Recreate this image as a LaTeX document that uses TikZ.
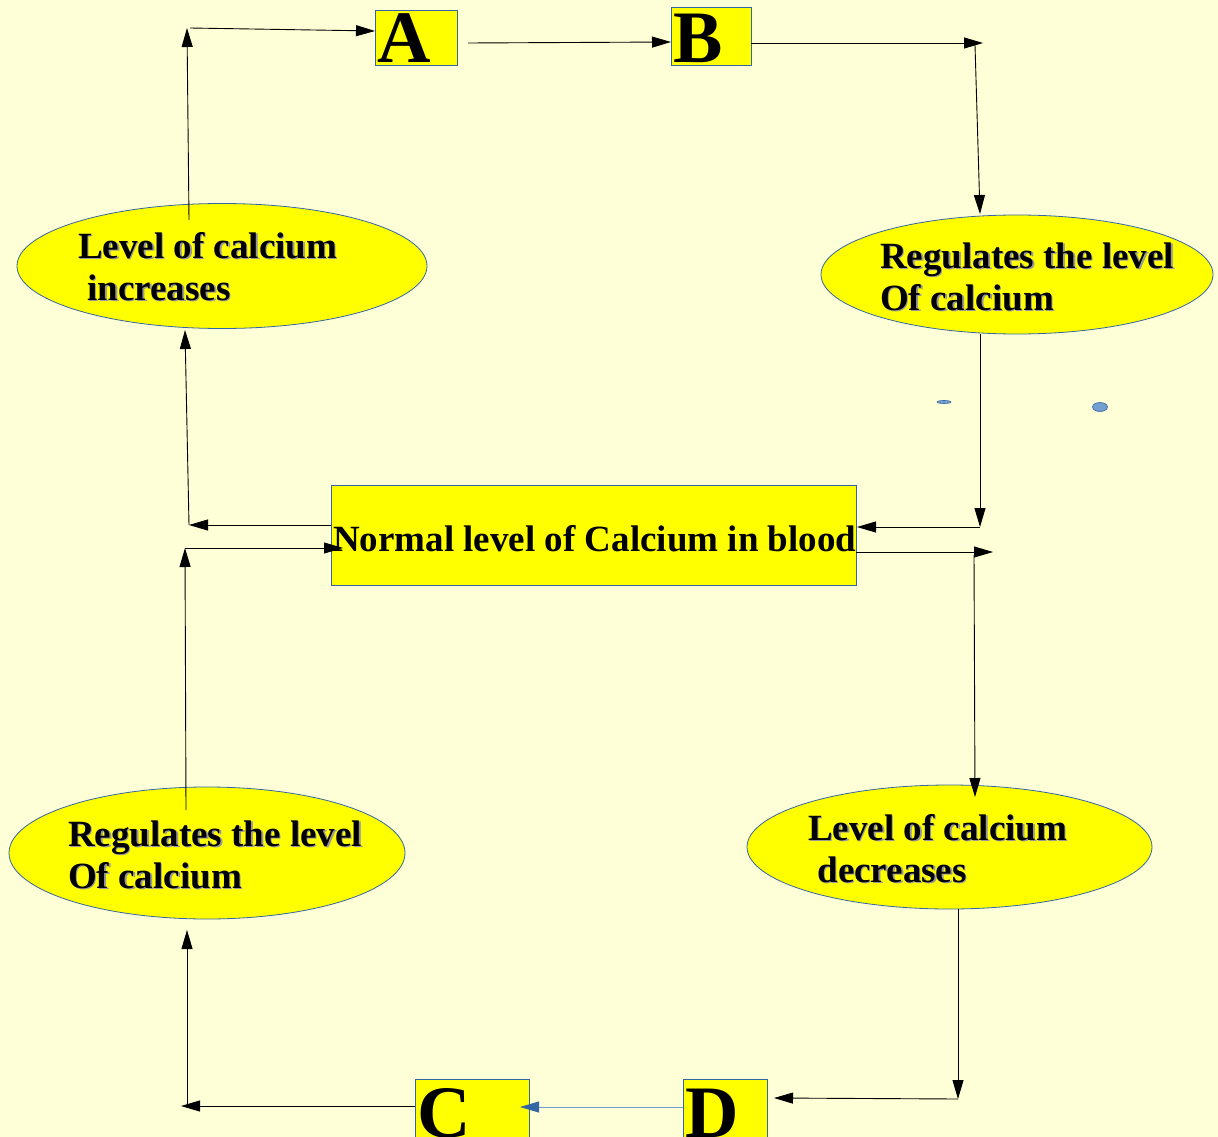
\documentclass[tikz,border=0pt]{standalone}
\usepackage{fontspec}
\setmainfont{Liberation Serif}
\usetikzlibrary{shapes.geometric,arrows.meta}
\definecolor{bg}{HTML}{FFFFD7}
\definecolor{yel}{HTML}{FFFF00}
\definecolor{edgeblue}{HTML}{3465A4}
\definecolor{lblue}{HTML}{729FCF}
\definecolor{shd}{HTML}{9A9A9A}
\tikzset{
  arr/.style={draw=black, line width=0.9pt, -{Triangle[length=19pt,width=11pt]}},
  barr/.style={draw=lblue, line width=0.9pt, -{Triangle[length=19pt,width=11pt,color=edgeblue]}},
  ybox/.style={draw=edgeblue, fill=yel, line width=0.8pt, inner sep=0pt, anchor=north west},
  yell/.style={ellipse, draw=edgeblue, fill=yel, line width=0.8pt, inner sep=0pt},
  lbl/.style={font=\fontsize{37}{42}\selectfont\bfseries, inner sep=0pt, anchor=base west},
  shlbl/.style={lbl, text=shd},
  big/.style={font=\fontsize{74}{80}\selectfont\bfseries, inner sep=0pt, anchor=base west},
  dot/.style={ellipse, draw=edgeblue, fill=lblue, line width=0.6pt, inner sep=0pt},
}
\begin{document}
\begin{tikzpicture}[x=1pt,y=-1pt]
\fill[bg] (0,0) rectangle (1218,1137);
\useasboundingbox (0,0) rectangle (1218,1137);

% boxes
\node[ybox, minimum width=82pt, minimum height=55pt] (A) at (375,10) {};
\node[big] (Atxt) at (377,63) {A};
\node[ybox, minimum width=80pt, minimum height=58pt] (B) at (671,7) {};
\node[big] (Btxt) at (673,63) {B};
\node[ybox, minimum width=114pt, minimum height=60pt] (C) at (415,1079) {};
\node[big] (Ctxt) at (417,1137) {C};
\node[ybox, minimum width=84pt, minimum height=60pt] (D) at (683,1079) {};
\node[big] (Dtxt) at (685,1137) {D};
\node[ybox, minimum width=525pt, minimum height=100pt] (N) at (331,485) {};
\node[lbl] (Ntxt) at (333,551) {Normal level of Calcium in blood};

% ellipses
\node[yell, minimum width=410pt, minimum height=125pt] (E1) at (222,266) {};
\node[yell, minimum width=392pt, minimum height=119pt] (E2) at (1017,274.5) {};
\node[yell, minimum width=396pt, minimum height=132pt] (E3) at (207,853) {};
\node[yell, minimum width=405pt, minimum height=124pt] (E4) at (949.5,847) {};

% ellipse texts with shadow
\node[shlbl] (s1a) at (79.5,259.5) {Level of calcium};
\node[lbl] (t1a) at (78,258) {Level of calcium};
\node[shlbl] (s1b) at (79.5,301.5) {\ increases};
\node[lbl] (t1b) at (78,300) {\ increases};
\node[shlbl] (s2a) at (881.5,269.5) {Regulates the level};
\node[lbl] (t2a) at (880,268) {Regulates the level};
\node[shlbl] (s2b) at (881.5,311.5) {Of calcium};
\node[lbl] (t2b) at (880,310) {Of calcium};
\node[shlbl] (s3a) at (69.5,847.5) {Regulates the level};
\node[lbl] (t3a) at (68,846) {Regulates the level};
\node[shlbl] (s3b) at (69.5,889.5) {Of calcium};
\node[lbl] (t3b) at (68,888) {Of calcium};
\node[shlbl] (s4a) at (809.5,841.5) {Level of calcium};
\node[lbl] (t4a) at (808,840) {Level of calcium};
\node[shlbl] (s4b) at (809.5,883.5) {\ decreases};
\node[lbl] (t4b) at (808,882) {\ decreases};

% small blue marks
\node[dot, minimum width=14pt, minimum height=3pt] (m1) at (944,402) {};
\node[dot, minimum width=15pt, minimum height=9pt] (m2) at (1100,407) {};

% connector points
\coordinate (e1top) at (189,220);
\coordinate (tl) at (187,28);
\coordinate (tl2) at (190,28);
\coordinate (aL) at (375,31);
\coordinate (aR) at (468,43);
\coordinate (bL) at (671,42);
\coordinate (bR) at (751,43);
\coordinate (tr) at (983,43);
\coordinate (tr2) at (975,45);
\coordinate (e2top) at (980,214);
\coordinate (e2bot) at (980,334);
\coordinate (mr) at (980,527);
\coordinate (nR1) at (857,527);
\coordinate (nR2) at (856,552);
\coordinate (mr2) at (993,552);
\coordinate (mr3) at (974,555);
\coordinate (e4top) at (975,797);
\coordinate (e4bot) at (958,909);
\coordinate (br) at (958,1099);
\coordinate (dR) at (774,1098);
\coordinate (dL) at (683,1107);
\coordinate (cIn) at (520,1107);
\coordinate (cL) at (415,1106);
\coordinate (bl) at (181,1106);
\coordinate (bl2) at (187,1104);
\coordinate (e3bot) at (187,930);
\coordinate (e3top) at (186,810);
\coordinate (ml) at (185,548);
\coordinate (nL2) at (343,548);
\coordinate (nL1) at (331,525);
\coordinate (ml2) at (189,525);
\coordinate (e1bot) at (185,330);

% connectors
\draw[arr] (e1top) -- (tl);
\draw[arr] (tl2) -- (aL);
\draw[arr] (aR) -- (bL);
\draw[arr] (bR) -- (tr);
\draw[arr] (tr2) -- (e2top);
\draw[arr] (e2bot) -- (mr);
\draw[arr] (mr) -- (nR1);
\draw[arr] (nR2) -- (mr2);
\draw[arr] (mr3) -- (e4top);
\draw[arr] (e4bot) -- (br);
\draw[arr] (br) -- (dR);
\draw[barr] (dL) -- (cIn);
\draw[arr] (cL) -- (bl);
\draw[arr] (bl2) -- (e3bot);
\draw[arr] (e3top) -- (ml);
\draw[arr] (ml) -- (nL2);
\draw[arr] (nL1) -- (ml2);
\draw[arr] (ml2) -- (e1bot);
\end{tikzpicture}
\end{document}
